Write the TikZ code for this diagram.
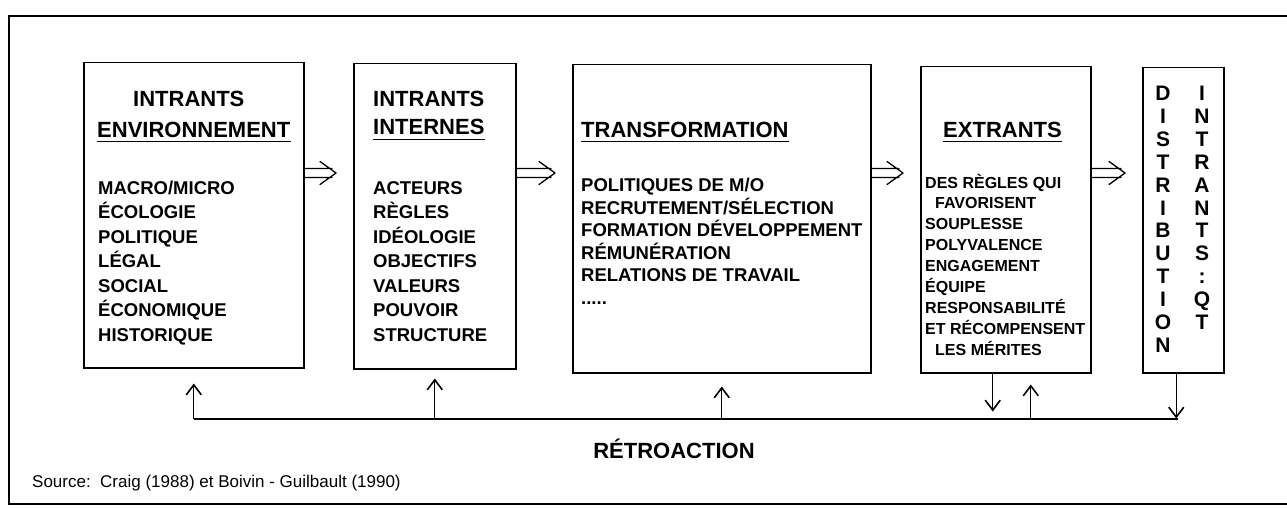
\documentclass[tikz,border=0pt]{standalone}
\usepackage{fontspec}
\setmainfont{Liberation Sans}
\usetikzlibrary{arrows.meta,calc}

\tikzset{
  frame/.style={line width=1.6pt},
  box/.style={draw, line width=1.5pt, anchor=north west, inner sep=0pt},
  hdr/.style={font=\fontsize{22pt}{26pt}\selectfont\bfseries, inner sep=0pt, anchor=base west},
  % multi-line texts are placed by the baseline of their last line
  body/.style={font=\fontsize{18.5pt}{#1}\selectfont\bfseries, inner sep=0pt,
               anchor=base west, align=left},
  small/.style={font=\fontsize{16pt}{#1}\selectfont\bfseries, inner sep=0pt,
               anchor=base west, align=left},
  vert/.style={font=\fontsize{21pt}{22.9pt}\selectfont\bfseries, inner sep=0pt,
               anchor=base, align=center},
  ul/.style={line width=1.6pt},
  dbl/.style={line width=1.3pt, line cap=round, line join=round, to path={
      ($(\tikztostart)+(0,-4.5)$) -- ($(\tikztotarget)+(-21,-4.5)$)
      ($(\tikztostart)+(0,4.5)$) -- ($(\tikztotarget)+(-21,4.5)$)
      ($(\tikztotarget)+(-33,-11.5)$) -- ($(\tikztotarget)+(-17,0)$)
        -- ($(\tikztotarget)+(-33,11.5)$)}},
  fbline/.style={line width=1.5pt},
  fb/.style={line width=1.2pt, -{Straight Barb[length=10pt,width=15pt,line width=1.6pt]}}
}

\begin{document}
\begin{tikzpicture}[x=1pt,y=-1pt]
\useasboundingbox (0,0) rectangle (1287,508);

% outer frame
\draw[frame] (1287,16) -- (9,16) -- (9,504) -- (1287,504);

% the five stages
\node[box, minimum width=220pt, minimum height=305pt] (b1) at (83,62) {};
\node[box, minimum width=162pt, minimum height=305pt] (b2) at (353,63) {};
\node[box, minimum width=298pt, minimum height=308pt] (b3) at (572,64) {};
\node[box, minimum width=170pt, minimum height=306pt] (b4) at (920,66) {};
\node[box, minimum width=81pt,  minimum height=305pt] (b5) at (1142,67) {};

% environment inputs
\node[hdr] (h1a) at (133,107) {INTRANTS};
\node[hdr] (h1b) at (97,137) {ENVIRONNEMENT};
\draw[ul] ([yshift=-4.5pt]h1b.base west) -- ([yshift=-4.5pt]h1b.base east);
\node[body=24.5pt] (t1) at (98,341)
  {MACRO/MICRO\\ÉCOLOGIE\\POLITIQUE\\LÉGAL\\SOCIAL\\ÉCONOMIQUE\\HISTORIQUE};

% internal inputs
\node[hdr] (h2a) at (373,107) {INTRANTS};
\node[hdr] (h2b) at (373,135) {INTERNES};
\draw[ul] ([yshift=-4.5pt]h2b.base west) -- ([yshift=-4.5pt]h2b.base east);
\node[body=24.5pt] (t2) at (373,341)
  {ACTEURS\\RÈGLES\\IDÉOLOGIE\\OBJECTIFS\\VALEURS\\POUVOIR\\STRUCTURE};

% transformation
\node[hdr] (h3) at (581,137) {TRANSFORMATION};
\draw[ul] ([yshift=-4.5pt]h3.base west) -- ([yshift=-4.5pt]h3.base east);
\node[body=22.6pt] (t3) at (581,304.5)
  {POLITIQUES DE M/O\\RECRUTEMENT/SÉLECTION\\FORMATION DÉVELOPPEMENT\\RÉMUNÉRATION\\RELATIONS DE TRAVAIL\\.....};

% outputs
\node[hdr] (h4) at (943,137) {EXTRANTS};
\draw[ul] ([yshift=-4.5pt]h4.base west) -- ([yshift=-4.5pt]h4.base east);
\node[small=20.9pt] (t4) at (925,355.2)
  {DES RÈGLES QUI\\\hspace*{10pt}FAVORISENT\\SOUPLESSE\\POLYVALENCE\\ENGAGEMENT\\ÉQUIPE\\RESPONSABILITÉ\\ET RÉCOMPENSENT\\\hspace*{10pt}LES MÉRITES};

% distribution column
\node[vert] (v1) at (1163,352.4) {D\\I\\S\\T\\R\\I\\B\\U\\T\\I\\O\\N};
\node[vert] (v2) at (1202,329.5) {I\\N\\T\\R\\A\\N\\T\\S\\:\\Q\\T};

% forward flow
\draw[dbl] (b1.east |- 0,173) to (b2.west |- 0,173);
\draw[dbl] (b2.east |- 0,173) to (b3.west |- 0,173);
\draw[dbl] (b3.east |- 0,173) to (b4.west |- 0,173);
\draw[dbl] (b4.east |- 0,173) to (b5.west |- 0,173);

% feedback loop
\coordinate (fbL) at (194,419);
\coordinate (fbR) at (1178,419);
\draw[fbline] (fbL) -- (fbR);
\draw[fb] (b1.south |- fbL) -- ([yshift=-15pt]b1.south);
\draw[fb] (b2.south |- fbL) -- ([yshift=-9pt]b2.south);
\draw[fb] (b3.south |- fbL) -- ([yshift=-13pt]b3.south);
\coordinate (d4) at ($(b4.south)+(-13,0)$);
\coordinate (u4) at ($(b4.south)+(25,0)$);
\coordinate (d5) at ($(b5.south)+(-7,0)$);
\draw[fb] (d4) -- ([yshift=-38pt]d4);
\draw[fb] (u4 |- fbL) -- ([yshift=-11pt]u4);
\draw[fb] (d5) -- ([yshift=-45pt]d5);

\node[hdr, anchor=base] (fbt) at (674,458) {RÉTROACTION};

% source
\node[anchor=base west, inner sep=0pt, font=\fontsize{17pt}{20pt}\selectfont] (src) at (32,487)
  {Source:\ \ Craig (1988) et Boivin - Guilbault (1990)};
\end{tikzpicture}
\end{document}
